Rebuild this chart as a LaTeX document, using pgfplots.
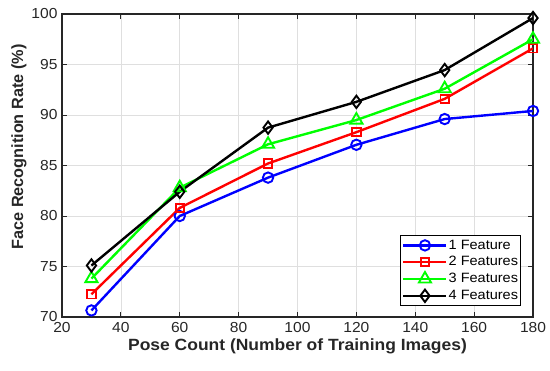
\documentclass[border=0pt]{standalone}
\usepackage{pgfplots}
\pgfplotsset{compat=1.18}
\usepackage{fontspec}
\setmainfont{Liberation Sans}[FakeStretch=1.075]
\newfontfamily\ylfont{Liberation Sans}
\definecolor{mblue}{RGB}{0,0,255}
\definecolor{mred}{RGB}{255,0,0}
\definecolor{mgreen}{RGB}{0,255,0}
\definecolor{mtext}{RGB}{38,38,38}
\begin{document}
\begin{tikzpicture}
\begin{axis}[
  name=ax,
  scale only axis,
  width=471pt, height=303pt,
  xmin=20, xmax=180, ymin=70, ymax=100,
  xtick={20,40,...,180}, ytick={70,75,...,100},
  /pgf/number format/assume math mode=true,
  tick label style={font=\fontsize{14.5}{16}\selectfont, color=mtext},
  xticklabel style={yshift=-1.5pt},
  yticklabel style={xshift=-1pt},
  xlabel={\textbf{Pose Count (Number of Training Images)}},
  ylabel={\ylfont\bfseries Face Recognition Rate (\%)},
  xlabel style={font=\fontsize{16.25}{18}\selectfont, color=mtext, yshift=0pt},
  ylabel style={font=\fontsize{16.25}{18}\selectfont, color=mtext, at={(ticklabel cs:0.561)}, yshift=-2pt},
  grid=major,
  major grid style={gray!25, line width=0.7pt},
  axis line style={mtext, line width=1.1pt},
  tick style={mtext, line width=0.8pt},
  major tick length=5pt,
  tick align=inside,
  legend style={font=\fontsize{13.5}{16}\selectfont, draw=black, line width=0.9pt,
    at={(1,0)}, anchor=south east, xshift=-12pt, yshift=11pt,
    inner sep=1.5pt, row sep=0.3pt,
    nodes={inner sep=1pt, text height=11pt, text depth=3.5pt}},
  legend cell align=left,
  legend image code/.code={
    \draw[#1, mark=none] (0pt,0pt) -- (43pt,0pt);
    \draw[#1, only marks] plot coordinates {(21.5pt,0pt)};
  },
  every axis plot/.append style={line width=2.4pt, mark options={line width=1.9pt, solid}},
]
\addplot[mblue, mark=o, mark size=5.2pt] coordinates {(30,70.65) (60,80.0) (90,83.8) (120,87.05) (150,89.6) (180,90.4)};
\addlegendentry{1 Feature}
\addplot[mred, mark=square, mark size=4.2pt] coordinates {(30,72.25) (60,80.8) (90,85.2) (120,88.3) (150,91.6) (180,96.6)};
\addlegendentry{2 Features}
\addplot[mgreen, mark=triangle, mark size=7pt] coordinates {(30,73.8) (60,82.8) (90,87.1) (120,89.5) (150,92.6) (180,97.5)};
\addlegendentry{3 Features}
\addplot[black, mark=diamond, mark size=6.2pt] coordinates {(30,75.1) (60,82.4) (90,88.75) (120,91.3) (150,94.45) (180,99.6)};
\addlegendentry{4 Features}
\end{axis}
\pgfresetboundingbox
\path ([shift={(-62pt,-53pt)}]ax.south west) rectangle ([shift={(17pt,14pt)}]ax.north east);
\end{tikzpicture}
\end{document}
